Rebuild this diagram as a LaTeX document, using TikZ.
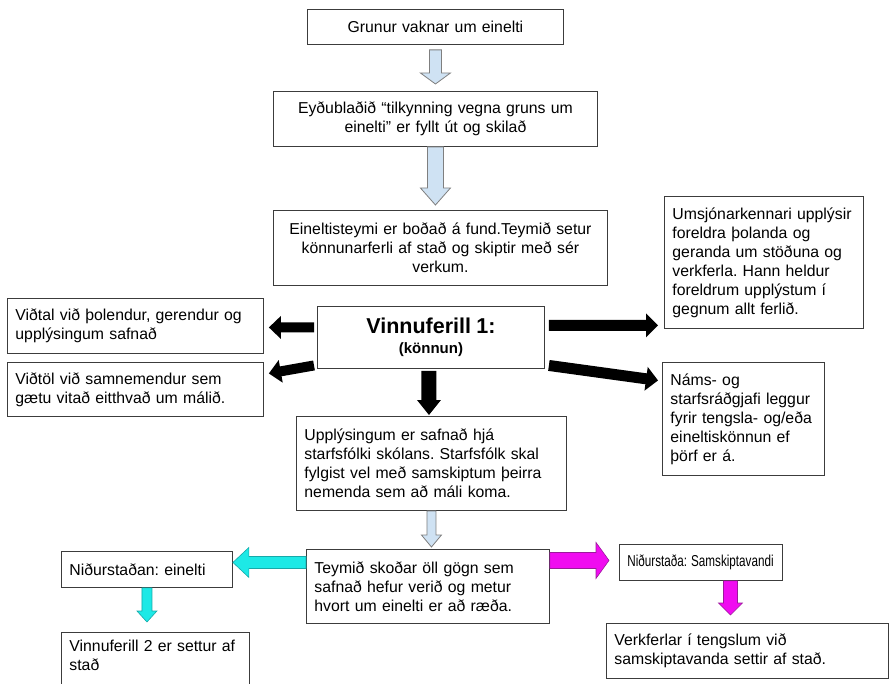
\documentclass[tikz,border=0pt]{standalone}
\usepackage{fontspec}
\usepackage{graphicx}
\setmainfont{Liberation Sans}
\usetikzlibrary{calc}
\frenchspacing

\definecolor{paleblue}{HTML}{CFE2F3}
\definecolor{arrowgray}{HTML}{7F7F7F}
\definecolor{cyanfill}{HTML}{1DE9E6}
\definecolor{cyanline}{HTML}{17A9A9}
\definecolor{magfill}{HTML}{F00CF0}
\definecolor{magline}{HTML}{9A1A9A}
\definecolor{boxline}{HTML}{3C3C3C}

% block arrow: style, start, tip, shaft half width, head half width, head length
\newcommand{\blockarrow}[6]{%
  \coordinate (ba) at (#2);
  \coordinate (bb) at (#3);
  \coordinate (bc) at ($(bb)!#6!(ba)$);
  \filldraw[#1] ($(ba)!#4!90:(bb)$) -- ($(bc)!#4!90:(bb)$) -- ($(bc)!#5!90:(bb)$) -- (bb)
    -- ($(bc)!#5!-90:(bb)$) -- ($(bc)!#4!-90:(bb)$) -- ($(ba)!#4!-90:(bb)$) -- cycle;}

\begin{document}
\begin{tikzpicture}[x=1pt, y=-1pt,
    box/.style={draw=boxline, line width=0.9pt, inner xsep=8pt, inner ysep=3pt,
      anchor=north west, font=\fontsize{15.8}{19}\selectfont},
    lbox/.style={box, align=left},
    cbox/.style={box, align=center},
    bluearrow/.style={fill=paleblue, draw=arrowgray, line width=0.8pt},
    blackarrow/.style={fill=black, draw=none},
    cyanarrow/.style={fill=cyanfill, draw=cyanline, line width=0.6pt},
    magarrow/.style={fill=magfill, draw=magline, line width=0.6pt}]
  \useasboundingbox (0,0) rectangle (891,684);

  \node[cbox, text width=240pt, minimum height=35pt] (grunur) at (307,9) {Grunur vaknar um einelti};
  \node[cbox, text width=308pt, minimum height=55pt] (eydu) at (273,91) {Eyðublaðið “tilkynning vegna gruns um\\ einelti” er fyllt út og skilað};
  \node[cbox, text width=318pt, minimum height=75pt] (teymi) at (273,210) {Eineltisteymi er boðað á fund.Teymið setur\\ könnunarferli af stað og skiptir með sér\\ verkum.};
  \node[lbox, text width=183pt, minimum height=132pt] (umsjon) at (664,196) {Umsjónarkennari upplýsir\\ foreldra þolanda og\\ geranda um stöðuna og\\ verkferla. Hann heldur\\ foreldrum upplýstum í\\ gegnum allt ferlið.};
  \node[cbox, text width=211pt, minimum height=62pt] (vf) at (317,306) {{\fontsize{21.5}{24}\selectfont\bfseries Vinnuferill 1:}\\[1pt]{\fontsize{15}{18}\selectfont\bfseries (könnun)}};
  \node[lbox, text width=240pt, minimum height=55pt] (vidtal) at (7,298) {Viðtal við þolendur, gerendur og\\ upplýsingum safnað};
  \node[lbox, text width=240pt, minimum height=54pt] (vidtol) at (7,362) {Viðtöl við samnemendur sem\\ gætu vitað eitthvað um málið.};
  \node[lbox, text width=146pt, minimum height=113pt] (nams) at (662,362) {Náms- og\\ starfsráðgjafi leggur\\ fyrir tengsla- og/eða\\ eineltiskönnun ef\\ þörf er á.};
  \node[lbox, text width=254pt, minimum height=94pt] (uppl) at (296,416) {Upplýsingum er safnað hjá\\ starfsfólki skólans. Starfsfólk skal\\ fylgist vel með samskiptum þeirra\\ nemenda sem að máli koma.};
  \node[lbox, text width=227pt, minimum height=74pt] (skodar) at (306,549) {Teymið skoðar öll gögn sem\\ safnað hefur verið og metur\\ hvort um einelti er að ræða.};
  \node[lbox, text width=155pt, minimum height=36pt] (nidein) at (61,551) {Niðurstaðan: einelti};
  \node[lbox, text width=172pt, minimum height=70pt] (vinn2) at (61,632) {Vinnuferill 2 er settur af\\ stað\\ \strut};
  \node[lbox, text width=147pt, minimum height=36pt] (samsk) at (619,544) {\scalebox{0.74}[1]{Niðurstaða: Samskiptavandi}};
  \node[lbox, text width=266pt, minimum height=55pt] (verk) at (606,623) {Verkferlar í tengslum við\\ samskiptavanda settir af stað.};

  % light blue arrows
  \blockarrow{bluearrow}{$(grunur.south)+(0,5)$}{$(eydu.north)+(0,-7)$}{6pt}{15pt}{11pt}
  \blockarrow{bluearrow}{eydu.south}{$(eydu.south |- teymi.north)+(0,-5)$}{8pt}{15pt}{17pt}
  \blockarrow{bluearrow}{uppl.south}{$(uppl.south |- skodar.north)+(0,-2)$}{4.5pt}{10pt}{12pt}

  % black arrows out of Vinnuferill 1
  \blockarrow{blackarrow}{$(vf.west)+(-3,-10)$}{$(vidtal.east |- vf.west)+(5,-10)$}{5pt}{11.5pt}{12pt}
  \blockarrow{blackarrow}{$(vf.west)+(-3,28)$}{$(vidtol.east)+(5,-16)$}{5pt}{11.5pt}{12pt}
  \blockarrow{blackarrow}{$(vf.east)+(4,-12)$}{$(umsjon.west |- vf.east)+(-6,-12)$}{5.5pt}{12pt}{12pt}
  \blockarrow{blackarrow}{$(vf.east)+(4,28)$}{$(nams.west)+(-4,-38.5)$}{5.5pt}{12pt}{12pt}
  \blockarrow{blackarrow}{$(vf.south)+(-2,2)$}{$(vf.south |- uppl.north)+(-2,-1)$}{7.5pt}{12pt}{15pt}

  % results
  \blockarrow{cyanarrow}{$(skodar.west)+(0,-24)$}{$(nidein.east)+(0,-7)$}{6pt}{15pt}{16pt}
  \blockarrow{cyanarrow}{nidein.south}{$(nidein.south |- vinn2.north)+(0,-10)$}{5pt}{10pt}{11pt}
  \blockarrow{magarrow}{$(skodar.east)+(0,-26)$}{$(samsk.west)+(-10,-2)$}{8pt}{18pt}{13pt}
  \blockarrow{magarrow}{$(samsk.south)+(29.5,0)$}{$(samsk.south |- verk.north)+(29.5,-8)$}{7pt}{12pt}{12pt}
\end{tikzpicture}
\end{document}
